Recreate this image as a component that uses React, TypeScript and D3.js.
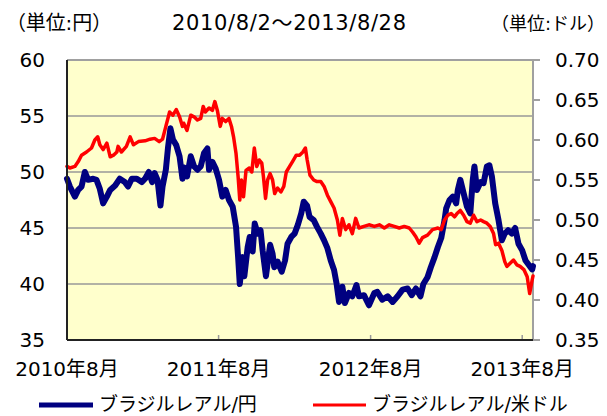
import * as d3 from 'd3'

// ブラジルレアル/円 (left axis)
const yenSeries: [string, number][] = [
  ['2010-08-02', 49.4], ['2010-08-09', 48.7], ['2010-08-21', 47.8], ['2010-08-29', 48.4],
  ['2010-09-06', 48.7], ['2010-09-14', 50.0], ['2010-09-22', 49.3], ['2010-10-04', 49.4],
  ['2010-10-12', 49.3], ['2010-10-20', 48.5], ['2010-10-28', 47.2], ['2010-11-06', 47.8],
  ['2010-11-14', 48.4], ['2010-11-26', 48.8], ['2010-12-07', 49.4], ['2010-12-19', 49.1],
  ['2010-12-27', 48.7], ['2011-01-05', 49.4], ['2011-01-17', 49.4], ['2011-01-29', 49.1],
  ['2011-02-06', 49.4], ['2011-02-15', 50.0], ['2011-02-23', 49.1], ['2011-03-01', 49.9],
  ['2011-03-08', 49.3], ['2011-03-15', 47.0], ['2011-03-20', 48.7], ['2011-03-28', 50.2],
  ['2011-04-02', 52.1], ['2011-04-08', 53.9], ['2011-04-14', 52.9], ['2011-04-22', 52.4],
  ['2011-04-30', 51.4], ['2011-05-07', 49.4], ['2011-05-11', 50.4], ['2011-05-18', 49.6],
  ['2011-05-27', 51.4], ['2011-06-04', 50.5], ['2011-06-12', 50.2], ['2011-06-20', 50.5],
  ['2011-06-28', 51.7], ['2011-07-06', 52.1], ['2011-07-10', 50.2], ['2011-07-18', 50.9],
  ['2011-07-26', 50.3], ['2011-08-03', 49.3], ['2011-08-11', 47.8], ['2011-08-19', 48.4],
  ['2011-08-27', 47.5], ['2011-09-05', 46.9], ['2011-09-13', 45.1], ['2011-09-18', 42.4],
  ['2011-09-22', 40.0], ['2011-09-29', 42.4], ['2011-10-03', 40.7], ['2011-10-11', 43.3],
  ['2011-10-16', 44.2], ['2011-10-23', 42.9], ['2011-10-28', 45.4], ['2011-11-04', 44.5],
  ['2011-11-11', 44.8], ['2011-11-16', 43.0], ['2011-11-24', 40.7], ['2011-12-04', 43.5],
  ['2011-12-10', 42.7], ['2011-12-14', 41.5], ['2011-12-22', 42.0], ['2012-01-01', 41.1],
  ['2012-01-09', 42.1], ['2012-01-15', 43.6], ['2012-01-24', 44.2], ['2012-02-01', 44.5],
  ['2012-02-09', 45.3], ['2012-02-17', 46.3], ['2012-02-23', 47.35], ['2012-03-02', 47.0],
  ['2012-03-08', 46.0], ['2012-03-18', 45.7], ['2012-03-26', 45.1], ['2012-04-04', 44.5],
  ['2012-04-12', 43.9], ['2012-04-20', 43.2], ['2012-04-28', 42.1], ['2012-05-06', 41.25],
  ['2012-05-12', 40.05], ['2012-05-18', 38.4], ['2012-05-26', 39.75], ['2012-06-01', 38.3],
  ['2012-06-11', 39.2], ['2012-06-19', 38.9], ['2012-06-29', 39.9], ['2012-07-05', 38.9],
  ['2012-07-17', 39.0], ['2012-07-29', 38.1], ['2012-08-11', 39.2], ['2012-08-18', 39.3],
  ['2012-08-30', 38.6], ['2012-09-12', 38.9], ['2012-09-24', 38.4], ['2012-10-06', 38.9],
  ['2012-10-18', 39.5], ['2012-10-30', 39.6], ['2012-11-09', 39.0], ['2012-11-19', 39.6],
  ['2012-11-30', 38.9], ['2012-12-07', 40.0], ['2012-12-17', 40.6], ['2012-12-25', 41.5],
  ['2013-01-03', 42.4], ['2013-01-11', 43.3], ['2013-01-19', 44.1], ['2013-01-27', 45.7],
  ['2013-01-31', 46.75], ['2013-02-08', 47.5], ['2013-02-16', 47.8], ['2013-02-24', 47.2],
  ['2013-02-28', 48.4], ['2013-03-06', 49.3], ['2013-03-14', 48.1], ['2013-03-22', 46.9],
  ['2013-03-30', 46.3], ['2013-04-05', 49.3], ['2013-04-09', 50.5], ['2013-04-15', 48.4],
  ['2013-04-24', 49.1], ['2013-05-01', 49.0], ['2013-05-09', 50.5], ['2013-05-15', 50.6],
  ['2013-05-21', 49.6], ['2013-05-29', 47.2], ['2013-06-06', 45.7], ['2013-06-14', 43.9],
  ['2013-06-21', 44.5], ['2013-06-29', 44.8], ['2013-07-08', 44.5], ['2013-07-16', 45.0],
  ['2013-07-24', 43.6], ['2013-08-02', 43.0], ['2013-08-10', 42.1], ['2013-08-18', 41.7],
  ['2013-08-26', 41.3], ['2013-08-28', 41.6],
]

// ブラジルレアル/米ドル (right axis)
const usdSeries: [string, number][] = [
  ['2010-08-02', 0.567], ['2010-08-09', 0.565], ['2010-08-21', 0.567], ['2010-08-29', 0.573],
  ['2010-09-06', 0.581], ['2010-09-18', 0.585], ['2010-09-30', 0.590], ['2010-10-08', 0.600],
  ['2010-10-15', 0.604], ['2010-10-20', 0.594], ['2010-10-28', 0.588], ['2010-11-06', 0.596],
  ['2010-11-14', 0.579], ['2010-11-22', 0.581], ['2010-11-30', 0.585], ['2010-12-03', 0.592],
  ['2010-12-11', 0.585], ['2010-12-23', 0.592], ['2011-01-01', 0.604], ['2011-01-09', 0.594],
  ['2011-01-21', 0.598], ['2011-02-06', 0.599], ['2011-02-18', 0.601], ['2011-03-01', 0.602],
  ['2011-03-12', 0.598], ['2011-03-20', 0.601], ['2011-03-28', 0.617], ['2011-04-06', 0.635],
  ['2011-04-14', 0.631], ['2011-04-22', 0.638], ['2011-04-30', 0.629], ['2011-05-07', 0.617],
  ['2011-05-10', 0.621], ['2011-05-18', 0.612], ['2011-05-27', 0.631], ['2011-06-04', 0.629],
  ['2011-06-12', 0.625], ['2011-06-20', 0.627], ['2011-06-26', 0.642], ['2011-07-01', 0.635],
  ['2011-07-10', 0.640], ['2011-07-18', 0.637], ['2011-07-24', 0.648], ['2011-07-30', 0.637],
  ['2011-08-06', 0.617], ['2011-08-11', 0.627], ['2011-08-19', 0.623], ['2011-08-27', 0.627],
  ['2011-09-02', 0.617], ['2011-09-07', 0.604], ['2011-09-13', 0.583], ['2011-09-18', 0.554],
  ['2011-09-22', 0.525], ['2011-09-26', 0.550], ['2011-10-01', 0.529], ['2011-10-07', 0.562],
  ['2011-10-15', 0.565], ['2011-10-21', 0.560], ['2011-10-27', 0.590], ['2011-11-02', 0.567],
  ['2011-11-08', 0.575], ['2011-11-14', 0.571], ['2011-11-18', 0.554], ['2011-11-23', 0.527],
  ['2011-11-28', 0.550], ['2011-12-04', 0.558], ['2011-12-10', 0.550], ['2011-12-15', 0.533],
  ['2011-12-22', 0.540], ['2011-12-30', 0.535], ['2012-01-06', 0.542], ['2012-01-12', 0.560],
  ['2012-01-20', 0.567], ['2012-01-27', 0.573], ['2012-02-05', 0.581], ['2012-02-13', 0.581],
  ['2012-02-21', 0.585], ['2012-02-27', 0.590], ['2012-03-02', 0.576], ['2012-03-09', 0.556],
  ['2012-03-18', 0.550], ['2012-03-26', 0.548], ['2012-04-04', 0.548], ['2012-04-12', 0.542],
  ['2012-04-20', 0.531], ['2012-04-28', 0.523], ['2012-05-06', 0.515], ['2012-05-14', 0.500],
  ['2012-05-20', 0.481], ['2012-05-26', 0.502], ['2012-06-03', 0.488], ['2012-06-11', 0.494],
  ['2012-06-19', 0.483], ['2012-06-27', 0.502], ['2012-07-05', 0.490], ['2012-07-17', 0.492],
  ['2012-07-29', 0.494], ['2012-08-11', 0.492], ['2012-08-23', 0.494], ['2012-09-04', 0.490],
  ['2012-09-16', 0.494], ['2012-09-28', 0.492], ['2012-10-10', 0.490], ['2012-10-22', 0.492],
  ['2012-11-03', 0.490], ['2012-11-11', 0.485], ['2012-11-19', 0.479], ['2012-11-27', 0.471],
  ['2012-12-05', 0.478], ['2012-12-17', 0.481], ['2012-12-29', 0.488], ['2013-01-11', 0.490],
  ['2013-01-19', 0.488], ['2013-01-27', 0.500], ['2013-02-04', 0.506], ['2013-02-12', 0.508],
  ['2013-02-20', 0.504], ['2013-02-26', 0.508], ['2013-03-06', 0.512], ['2013-03-14', 0.506],
  ['2013-03-22', 0.498], ['2013-03-30', 0.496], ['2013-04-07', 0.506], ['2013-04-15', 0.498],
  ['2013-04-24', 0.500], ['2013-05-01', 0.498], ['2013-05-09', 0.496], ['2013-05-17', 0.492],
  ['2013-05-25', 0.483], ['2013-05-30', 0.469], ['2013-06-06', 0.471], ['2013-06-14', 0.462],
  ['2013-06-21', 0.448], ['2013-06-26', 0.442], ['2013-07-04', 0.446], ['2013-07-12', 0.450],
  ['2013-07-20', 0.444], ['2013-07-28', 0.442], ['2013-08-06', 0.438], ['2013-08-14', 0.429],
  ['2013-08-20', 0.408], ['2013-08-26', 0.425], ['2013-08-28', 0.430],
]

const leftTicks = [35, 40, 45, 50, 55, 60]
const rightTicks = [0.35, 0.4, 0.45, 0.5, 0.55, 0.6, 0.65, 0.7]
const xTickDates = ['2010-08-02', '2011-08-02', '2012-08-02', '2013-08-02']
const xTickLabels = ['2010年8月', '2011年8月', '2012年8月', '2013年8月']
const dateRange = ['2010-08-02', '2013-08-28']
const title = '2010/8/2～2013/8/28'
const leftUnit = '（単位:円）'
const rightUnit = '（単位:ドル）'
const legendNames = ['ブラジルレアル/円', 'ブラジルレアル/米ドル']

const W = 607
const H = 416
const margin = { top: 60, right: 74, bottom: 76, left: 67 }
const FONT = "'DejaVu Sans', 'Noto Sans CJK JP', sans-serif"

export default function App() {
  const parse = d3.timeParse('%Y-%m-%d')
  const innerW = W - margin.left - margin.right
  const innerH = H - margin.top - margin.bottom

  const x = d3.scaleTime()
    .domain(dateRange.map(d => parse(d) as Date))
    .range([0, innerW])
  const yL = d3.scaleLinear().domain([35, 60]).range([innerH, 0])
  const yR = d3.scaleLinear().domain([0.35, 0.7]).range([innerH, 0])

  const yenLine = d3.line<[string, number]>()
    .x(d => x(parse(d[0]) as Date))
    .y(d => yL(d[1]))
  const usdLine = d3.line<[string, number]>()
    .x(d => x(parse(d[0]) as Date))
    .y(d => yR(d[1]))

  return (
    <svg width={W} height={H} style={{ position: 'fixed', left: 0, top: 0, background: '#fff' }}
      fontFamily={FONT}>
      <text x={6} y={30} fontSize={20} fill="#000" textLength={106} lengthAdjust="spacing">{leftUnit}</text>
      <text x={172} y={30} fontSize={21} fill="#000" textLength={234} lengthAdjust="spacing">{title}</text>
      <text x={605} y={30} fontSize={18} fill="#000" textAnchor="end">{rightUnit}</text>

      <g transform={`translate(${margin.left},${margin.top})`}>
        <rect width={innerW} height={innerH} fill="#FFFFCC" />

        {/* grid */}
        {leftTicks.slice(1, -1).map(t => (
          <line key={t} x1={0} x2={innerW} y1={yL(t)} y2={yL(t)} stroke="#999" strokeWidth={1.5} />
        ))}

        {/* top + right border */}
        <line x1={0} x2={innerW} y1={0} y2={0} stroke="#A0A0A0" strokeWidth={2} />
        <line x1={innerW} x2={innerW} y1={0} y2={innerH} stroke="#A0A0A0" strokeWidth={2} />
        {rightTicks.map(t => (
          <line key={t} x1={innerW} x2={innerW + 7} y1={yR(t)} y2={yR(t)} stroke="#A0A0A0" strokeWidth={2} />
        ))}

        {/* x ticks, inside */}
        {xTickDates.slice(1).map(d => (
          <line key={d} x1={x(parse(d) as Date)} x2={x(parse(d) as Date)} y1={innerH} y2={innerH - 5}
            stroke="#999" strokeWidth={1.5} />
        ))}

        <path d={yenLine(yenSeries) ?? ''} fill="none" stroke="#000080" strokeWidth={6}
          strokeLinejoin="round" strokeLinecap="round" />
        <path d={usdLine(usdSeries) ?? ''} fill="none" stroke="#FF0000" strokeWidth={3.5}
          strokeLinejoin="round" strokeLinecap="round" />

        {/* left + bottom axes */}
        <line x1={0} x2={0} y1={0} y2={innerH} stroke="#222" strokeWidth={2} />
        <line x1={0} x2={innerW} y1={innerH} y2={innerH} stroke="#222" strokeWidth={2} />

        {leftTicks.map(t => (
          <text key={t} x={-22} y={yL(t)} dy="0.36em" fontSize={20} textAnchor="end" fill="#000">{t}</text>
        ))}
        {rightTicks.map(t => (
          <text key={t} x={innerW + 22} y={yR(t)} dy="0.36em" fontSize={20} fill="#000">{t.toFixed(2)}</text>
        ))}
        {xTickDates.map((d, i) => (
          <text key={d} x={x(parse(d) as Date)} y={innerH + 36} fontSize={20} textAnchor="middle" fill="#000">
            {xTickLabels[i]}
          </text>
        ))}
      </g>

      {/* legend */}
      <line x1={39} x2={93} y1={405} y2={405} stroke="#000080" strokeWidth={5} />
      <text x={99} y={411} fontSize={19} fill="#000">{legendNames[0]}</text>
      <line x1={313} x2={366} y1={405} y2={405} stroke="#FF0000" strokeWidth={3} />
      <text x={372} y={411} fontSize={19} fill="#000">{legendNames[1]}</text>
    </svg>
  )
}
